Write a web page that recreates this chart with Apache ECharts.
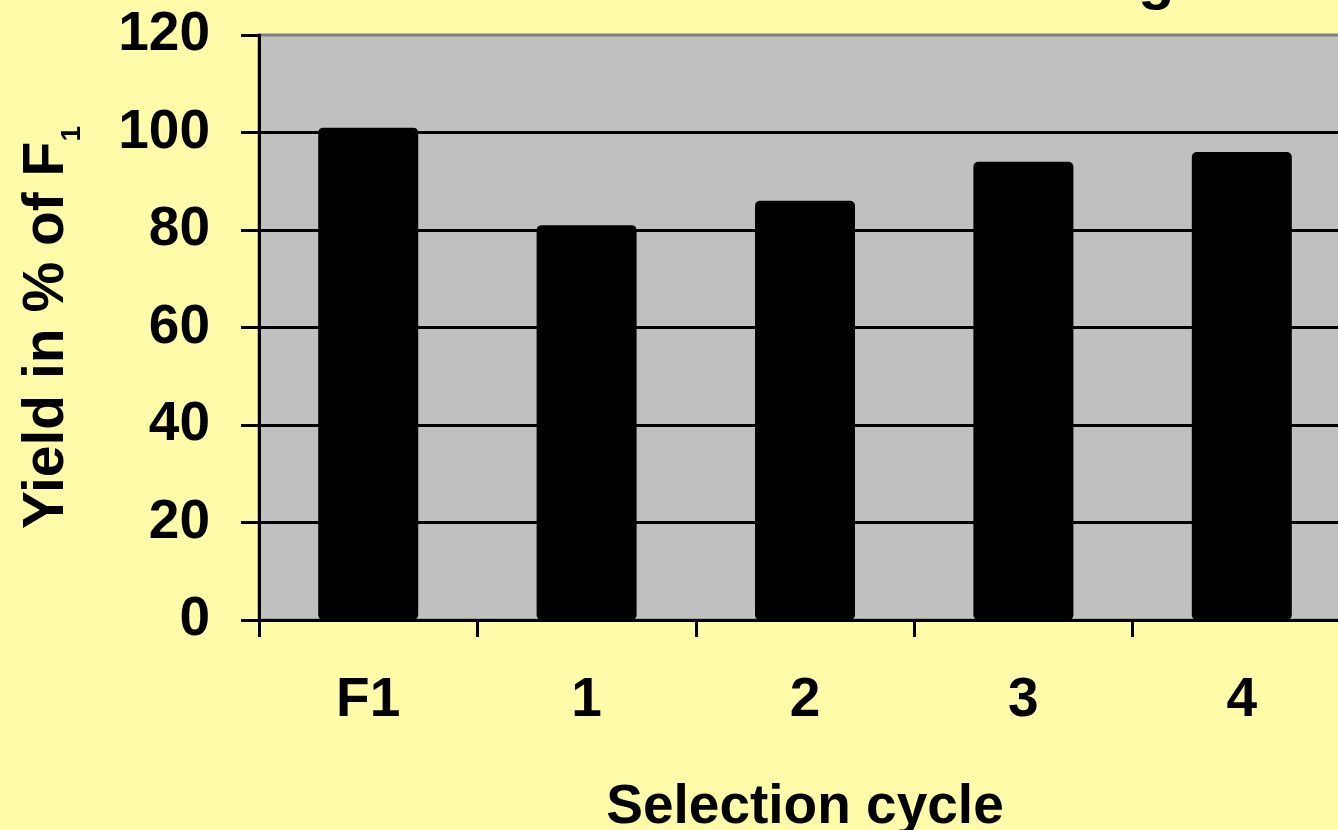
<!DOCTYPE html>
<html>
<head>
<meta charset="utf-8">
<title>Yield in % of F1 by selection cycle</title>
<script src="https://cdn.jsdelivr.net/npm/echarts@6/dist/echarts.min.js"></script>
<style>
  html, body { margin: 0; padding: 0; background: #fffca9; }
  #chart { width: 1338px; height: 830px; }
</style>
</head>
<body>
<div id="chart"></div>
<script>
const categories = ["F1", "1", "2", "3", "4"];
const yieldValues = [101, 81, 86, 94, 96];
const yTicks = [0, 20, 40, 60, 80, 100, 120];

const font = "'Liberation Sans', Arial, sans-serif";
const chart = echarts.init(document.getElementById("chart"));

const option = {
  backgroundColor: "#fffca9",
  animation: false,
  grid: {
    left: 259,
    top: 35,
    width: 1092, // plot runs past the right edge of the picture
    bottom: 210,
    outerBoundsMode: "none",
    show: true,
    backgroundColor: "#c0c0c0",
    borderColor: "#808080",
    borderWidth: 3
  },
  graphic: [
    {
      // descender of the cut-off title
      type: "text",
      left: 1138,
      top: -49,
      style: { text: "g", font: "bold 60px " + font, fill: "#000" }
    }
  ],
  xAxis: {
    type: "category",
    data: categories,
    name: "Selection cycle",
    nameLocation: "middle",
    nameGap: 160,
    nameTextStyle: { fontFamily: font, fontWeight: "bold", fontSize: 55, color: "#000" },
    axisLine: { lineStyle: { color: "#000", width: 3 } },
    axisTick: { show: true, length: 17, lineStyle: { color: "#000", width: 3 } },
    axisLabel: { fontFamily: font, fontWeight: "bold", fontSize: 55, color: "#000", margin: 53 },
    splitLine: { show: false }
  },
  yAxis: {
    type: "value",
    min: yTicks[0],
    max: yTicks[yTicks.length - 1],
    interval: yTicks[1] - yTicks[0],
    name: "Yield in % of F{sub|1}",
    nameLocation: "middle",
    nameRotate: 90,
    nameGap: 250,
    nameTextStyle: {
      fontFamily: font,
      fontWeight: "bold",
      fontSize: 57,
      color: "#000",
      verticalAlign: "top",
      rich: {
        sub: { fontFamily: font, fontWeight: "bold", fontSize: 28, color: "#000", verticalAlign: "top", padding: [49, 0, 0, 0] }
      }
    },
    axisLine: { show: true, lineStyle: { color: "#000", width: 3 } },
    axisTick: { show: true, length: 18, lineStyle: { color: "#000", width: 3 } },
    axisLabel: { fontFamily: font, fontWeight: "bold", fontSize: 55, color: "#000", margin: 49 },
    splitLine: { show: true, showMaxLine: false, lineStyle: { color: "#000", width: 3 } }
  },
  series: [
    {
      type: "bar",
      data: yieldValues,
      barWidth: 100,
      itemStyle: { color: "#000", borderRadius: 5 }
    }
  ]
};

chart.setOption(option);
window.addEventListener("resize", () => chart.resize());
</script>
</body>
</html>
